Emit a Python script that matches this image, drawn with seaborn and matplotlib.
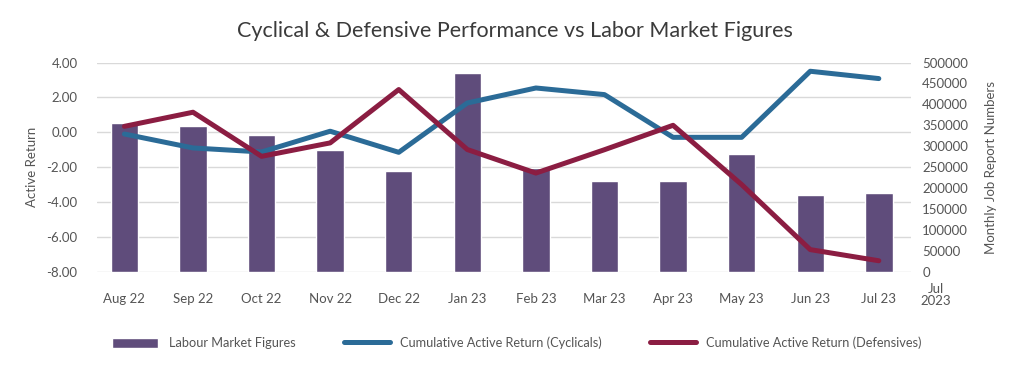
#!/usr/bin/env python3

import numpy as np
import pandas as pd
import matplotlib
matplotlib.use("Agg")
import matplotlib.pyplot as plt
import seaborn as sns

# --------------------------------------------------------------------
# Data
# --------------------------------------------------------------------

months = ["Aug 22", "Sep 22", "Oct 22", "Nov 22", "Dec 22", "Jan 23",
          "Feb 23", "Mar 23", "Apr 23", "May 23", "Jun 23", "Jul 23"]

# monthly job report numbers (right axis)
labour = [355000, 349000, 326000, 291000, 240000, 474000,
          247000, 218000, 218000, 282000, 183000, 187000]

# cumulative active return (left axis)
cyclicals = [-0.10, -0.90, -1.13, 0.06, -1.15, 1.68,
             2.54, 2.16, -0.29, -0.29, 3.50, 3.08]
defensives = [0.34, 1.15, -1.38, -0.61, 2.45, -0.99,
              -2.34, -1.00, 0.40, -3.00, -6.73, -7.37]

left_ticks = [4, 2, 0, -2, -4, -6, -8]
right_ticks = list(range(0, 500001, 50000))

df = pd.DataFrame({"month": months, "labour": labour,
                   "cyclicals": cyclicals, "defensives": defensives})

# --------------------------------------------------------------------
# Style
# --------------------------------------------------------------------

sns.set_theme(style="white")
plt.rcParams["font.family"] = ["Lato", "DejaVu Sans"]

BAR = "#5f4c7b"
BLUE = "#2b6b97"
RED = "#8b1d42"
TXT = "#555555"
GRID = "#d9d9d9"
FS = 9.5

fig = plt.figure(figsize=(10.24, 3.79), dpi=100)
ax = fig.add_axes([0.0947, 0.283, 0.795, 0.552])   # grid + left ticks
ax2 = ax.twinx()                                     # bars, right ticks
ax3 = ax.twinx()                                     # lines on top

# --------------------------------------------------------------------
# Bars: labour market figures
# --------------------------------------------------------------------

sns.barplot(data=df, x="month", y="labour", color=BAR, width=0.4,
            saturation=1, ax=ax2, label="Labour Market Figures")
ax2.set_ylim(0, 500000)
ax2.set_yticks(right_ticks)
ax2.set_yticklabels([str(t) for t in right_ticks])
ax2.set_ylabel("Monthly Job Report Numbers", color=TXT, fontsize=FS, labelpad=12)

# --------------------------------------------------------------------
# Lines: cumulative active return
# --------------------------------------------------------------------

sns.lineplot(data=df, x="month", y="cyclicals", color=BLUE, linewidth=3.6,
             ax=ax3, label="Cumulative Active Return (Cyclicals)", sort=False)
sns.lineplot(data=df, x="month", y="defensives", color=RED, linewidth=3.6,
             ax=ax3, label="Cumulative Active Return (Defensives)", sort=False)
ax3.set_ylim(-8, 4)
ax3.set_yticks([])
ax3.set_ylabel("")
ax3.legend_.remove()

ax.set_ylim(-8, 4)
ax.set_yticks(left_ticks)
ax.set_yticklabels([f"{t:.2f}" for t in left_ticks])
ax.set_ylabel("Active Return", color=TXT, fontsize=FS, labelpad=6)
ax.yaxis.grid(True, color=GRID, linewidth=1)
ax.set_axisbelow(True)
ax.set_xlim(-0.40, 11.47)
ax2.set_xlim(-0.40, 11.47)
ax2.set_xlabel("")
ax.set_xlabel("")

for a in (ax, ax2, ax3):
    for s in a.spines.values():
        s.set_visible(False)
    a.tick_params(length=0, colors=TXT, labelsize=FS)
    a.patch.set_visible(False)
ax.tick_params(axis="x", pad=15)
ax.tick_params(axis="y", pad=14)
ax2.tick_params(axis="y", pad=8)

ax.set_xticks(range(len(months)))
ax.set_xticklabels(months)

fig.text(0.914, 0.252, "Jul\n2023", ha="center", va="top", fontsize=FS,
         color=TXT, linespacing=1.0)

fig.suptitle("Cyclical & Defensive Performance vs Labor Market Figures",
             x=0.503, y=0.945, fontsize=15.5, color="#3b3b3b")

# --------------------------------------------------------------------
# Legend
# --------------------------------------------------------------------

h2, l2 = ax2.get_legend_handles_labels()
h3, l3 = ax3.get_legend_handles_labels()
if ax2.legend_ is not None:
    ax2.legend_.remove()
fig.legend(h2 + h3, l2 + l3, loc="center", bbox_to_anchor=(0.505, 0.095),
           ncol=3, frameon=False, fontsize=9.2, labelcolor=TXT,
           handlelength=3.6, handleheight=0.9, columnspacing=3.8)

fig.savefig("out.png", dpi=100)
